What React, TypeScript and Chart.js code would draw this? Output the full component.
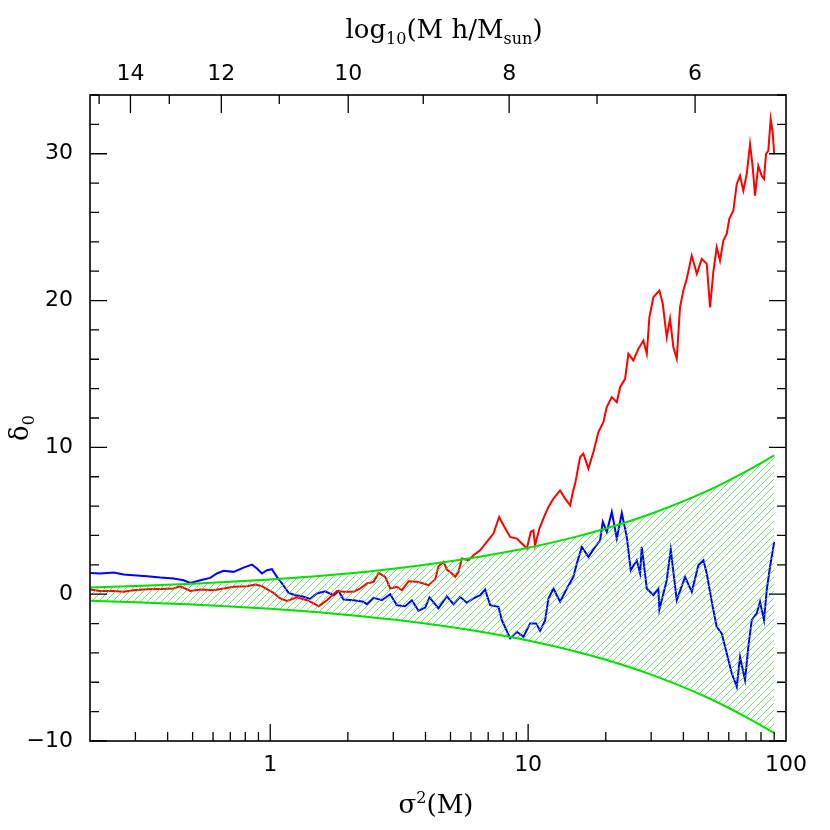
import React, { useEffect, useRef } from "react";
import { Chart, registerables } from "chart.js";

Chart.register(...registerables);

const X_MIN = 0.2;
const X_MAX = 100;
const Y_MIN = -10;
const Y_MAX = 34;

// 1-sigma envelope (green)
const envSigma2 = [0.2, 0.3, 0.5, 0.7, 1, 1.5, 2, 3, 5, 7, 10, 15, 20, 30, 50, 70, 90];
const envUpper = [0.45, 0.55, 0.71, 0.84, 1.0, 1.22, 1.41, 1.73, 2.24, 2.65, 3.16, 3.87, 4.47, 5.48, 7.07, 8.37, 9.45];
const envLower = [-0.45, -0.55, -0.71, -0.84, -1.0, -1.22, -1.41, -1.73, -2.24, -2.65, -3.16, -3.87, -4.47, -5.48, -7.07, -8.37, -9.45];

// red trajectory
const redSigma2 = [
  0.200, 0.219, 0.247, 0.270, 0.295, 0.333, 0.375, 0.422, 0.448, 0.490,
  0.536, 0.603, 0.659, 0.721, 0.812, 0.875, 0.928, 0.985, 1.030, 1.093,
  1.161, 1.269, 1.387, 1.472, 1.539, 1.659, 1.813, 1.924, 2.104, 2.233,
  2.370, 2.515, 2.630, 2.791, 2.919, 3.097, 3.239, 3.438, 3.704, 3.928,
  4.109, 4.362, 4.491, 4.697, 4.840, 5.062, 5.214, 5.370, 5.534, 5.872,
  6.138, 6.516, 6.917, 7.337, 7.720, 8.022, 8.516, 9.042, 9.455, 9.886,
  10.24, 10.48, 10.64, 11.06, 11.53, 11.99, 12.54, 13.30, 13.91, 14.55,
  14.91, 15.22, 15.91, 16.38, 17.13, 17.91, 18.73, 19.58, 20.18, 21.11,
  22.07, 22.73, 23.77, 24.48, 25.59, 26.76, 27.99, 28.85, 29.53, 30.60,
  32.28, 33.27, 34.48, 35.51, 36.58, 37.70, 38.82, 39.98, 41.22, 43.11,
  45.08, 47.14, 49.28, 50.76, 52.25, 53.86, 55.47, 57.15, 58.90, 60.28,
  62.48, 64.42, 66.33, 68.31, 70.42, 72.53, 74.30, 75.84, 78.07, 80.48,
  82.17, 83.65, 85.37, 87.22, 88.79, 90.0,
];
const redDelta = [
  0.32, 0.22, 0.22, 0.16, 0.27, 0.34, 0.36, 0.39, 0.54, 0.22,
  0.32, 0.27, 0.39, 0.50, 0.54, 0.66, 0.54, 0.27, 0.09, -0.29,
  -0.46, -0.22, -0.41, -0.63, -0.82, -0.41, 0.22, 0.16, 0.16, 0.39,
  0.73, 0.84, 1.45, 1.18, 0.39, 0.50, 0.27, 0.88, 0.84, 0.73,
  0.61, 1.00, 1.90, 2.20, 1.68, 1.41, 1.18, 1.52, 2.43, 2.31,
  2.65, 2.99, 3.56, 4.13, 5.26, 4.69, 3.90, 3.79, 3.45, 3.11,
  4.24, 4.35, 3.33, 4.47, 5.26, 5.94, 6.51, 7.07, 6.51, 6.05,
  6.96, 7.53, 9.34, 9.57, 8.55, 9.68, 11.04, 11.72, 12.74, 13.42,
  13.08, 14.10, 14.67, 16.37, 15.92, 16.71, 17.28, 16.37, 18.86, 20.22,
  20.68, 19.78, 17.50, 18.76, 16.82, 16.03, 19.54, 20.68, 21.48, 23.06,
  21.82, 22.84, 22.50, 19.54, 21.93, 23.63, 22.72, 24.08, 24.54, 25.56,
  26.12, 27.94, 28.50, 27.48, 28.62, 30.66, 29.07, 27.14, 29.18, 28.50,
  28.28, 29.98, 30.20, 32.36, 31.45, 29.98,
];

// blue trajectory
const blueSigma2 = [
  0.200, 0.219, 0.247, 0.270, 0.295, 0.333, 0.375, 0.422, 0.461, 0.490,
  0.536, 0.585, 0.621, 0.659, 0.721, 0.788, 0.849, 0.888, 0.928, 0.971,
  1.015, 1.061, 1.110, 1.178, 1.250, 1.327, 1.429, 1.517, 1.634, 1.760,
  1.840, 1.924, 2.104, 2.300, 2.370, 2.515, 2.709, 2.919, 3.097, 3.337,
  3.541, 3.758, 3.989, 4.144, 4.491, 4.840, 5.134, 5.450, 5.786, 6.138,
  6.516, 6.812, 7.124, 7.673, 7.910, 8.516, 9.042, 9.590, 10.18, 10.74,
  11.13, 11.64, 11.99, 12.54, 13.30, 14.13, 14.98, 15.45, 16.15, 17.13,
  18.19, 19.02, 19.48, 20.18, 21.11, 22.07, 23.08, 24.13, 25.00, 26.38,
  27.18, 27.59, 28.85, 30.60, 31.99, 32.28, 34.48, 35.73, 37.70, 40.61,
  43.11, 45.73, 47.82, 49.28, 51.97, 53.86, 56.32, 58.90, 61.60, 64.42,
  66.33, 69.36, 71.44, 73.64, 76.98, 79.29, 82.17, 84.19, 86.70, 90.0,
];
const blueDelta = [
  1.45, 1.41, 1.47, 1.34, 1.29, 1.22, 1.13, 1.07, 0.95, 0.77,
  0.95, 1.11, 1.41, 1.59, 1.52, 1.81, 2.02, 1.75, 1.41, 1.63,
  1.70, 1.18, 0.73, 0.09, -0.07, -0.14, -0.32, 0.05, 0.20, -0.07,
  0.22, -0.36, -0.41, -0.52, -0.68, -0.25, -0.41, 0.0, -0.75, -0.82,
  -0.41, -1.13, -0.91, -0.22, -0.97, -0.14, -0.68, -0.18, -0.59, -0.29,
  -0.07, 0.32, -0.75, -0.86, -1.77, -3.01, -2.56, -2.90, -1.99, -1.99,
  -2.50, -1.77, -0.29, 0.39, -0.52, 0.39, 1.18, 2.09, 3.22, 2.54,
  3.22, 3.67, 4.92, 4.24, 5.60, 3.79, 5.53, 3.90, 1.63, 2.31,
  1.41, 3.22, 0.39, -0.07, 0.39, -1.04, 0.95, 3.04, -0.41, 1.18,
  0.16, 1.97, 2.31, 1.41, -0.86, -2.22, -2.67, -4.03, -5.39, -6.31,
  -4.27, -5.85, -3.59, -1.77, -1.31, -0.52, -1.77, 0.27, 1.86, 3.56,
];

// axis ticks
const bottomTickValues = [1, 10, 100];
const bottomTickLabels = ["1", "10", "100"];
const yTickValues = [-10, 0, 10, 20, 30];
const massTickValues = [15, 14, 13, 12, 11, 10, 9, 8, 7, 6];
const massTickSigma2 = [0.217, 0.287, 0.406, 0.646, 1.084, 2.006, 3.92, 8.44, 18.5, 44.4];

const TICK_FONT = { family: "DejaVu Sans", size: 22 };
const TITLE_FAMILY = "DejaVu Serif";

type Part = { t: string; size: number; dy: number };

function drawRich(ctx: CanvasRenderingContext2D, parts: Part[], cx: number, baseY: number) {
  let total = 0;
  for (const p of parts) {
    ctx.font = `${p.size}px "${TITLE_FAMILY}"`;
    total += ctx.measureText(p.t).width;
  }
  let x = cx - total / 2;
  ctx.textAlign = "left";
  ctx.textBaseline = "alphabetic";
  for (const p of parts) {
    ctx.font = `${p.size}px "${TITLE_FAMILY}"`;
    ctx.fillText(p.t, x, baseY + p.dy);
    x += ctx.measureText(p.t).width;
  }
}

const decorPlugin = {
  id: "decor",
  afterDraw(chart: any) {
    const { ctx, chartArea: a } = chart;
    const sx = chart.scales.x;
    const sy = chart.scales.y;
    const st = chart.scales.xTop;
    ctx.save();
    ctx.strokeStyle = "#000";
    ctx.lineWidth = 1.3;
    ctx.beginPath();
    // bottom axis ticks
    for (const dec of [0.1, 1, 10]) {
      for (let k = 1; k <= 9; k++) {
        const v = k * dec;
        if (v < X_MIN + 1e-9 || v > X_MAX + 1e-9) continue;
        const px = sx.getPixelForValue(v);
        const len = k === 1 ? 17 : 9;
        ctx.moveTo(px, a.bottom);
        ctx.lineTo(px, a.bottom - len);
      }
    }
    // y ticks both sides
    for (let v = Y_MIN; v <= Y_MAX; v += 2) {
      const py = sy.getPixelForValue(v);
      const len = v % 10 === 0 ? 17 : 9;
      ctx.moveTo(a.left, py);
      ctx.lineTo(a.left + len, py);
      ctx.moveTo(a.right, py);
      ctx.lineTo(a.right - len, py);
    }
    // top (mass) ticks
    massTickValues.forEach((m, i) => {
      const px = st.getPixelForValue(massTickSigma2[i]);
      const len = m % 2 === 0 ? 18 : 9;
      ctx.moveTo(px, a.top);
      ctx.lineTo(px, a.top + len);
    });
    ctx.stroke();
    // frame
    ctx.lineWidth = 1.6;
    ctx.strokeRect(a.left, a.top, a.right - a.left, a.bottom - a.top);

    // titles
    ctx.fillStyle = "#000";
    drawRich(
      ctx,
      [
        { t: "log", size: 26, dy: 0 },
        { t: "10", size: 16, dy: 6 },
        { t: "(M h/M", size: 26, dy: 0 },
        { t: "sun", size: 16, dy: 6 },
        { t: ")", size: 26, dy: 0 },
      ],
      444,
      38
    );
    drawRich(
      ctx,
      [
        { t: "σ", size: 26, dy: 0 },
        { t: "2", size: 16, dy: -10 },
        { t: "(M)", size: 26, dy: 0 },
      ],
      436,
      813
    );
    ctx.save();
    ctx.translate(28, 428);
    ctx.rotate(-Math.PI / 2);
    drawRich(
      ctx,
      [
        { t: "δ", size: 26, dy: 0 },
        { t: "0", size: 16, dy: 6 },
      ],
      0,
      0
    );
    ctx.restore();
    ctx.restore();
  },
};

function makeHatch(ctx: CanvasRenderingContext2D): CanvasPattern | string {
  const s = 7;
  const c = document.createElement("canvas");
  c.width = s;
  c.height = s;
  const g = c.getContext("2d");
  if (!g) return "rgba(120,230,120,0.3)";
  g.strokeStyle = "rgba(70,215,70,0.85)";
  g.lineWidth = 0.9;
  g.beginPath();
  g.moveTo(-1, s + 1);
  g.lineTo(s + 1, -1);
  g.moveTo(-2, 1);
  g.lineTo(1, -2);
  g.moveTo(s - 1, s + 2);
  g.lineTo(s + 2, s - 1);
  g.stroke();
  return ctx.createPattern(c, "repeat") || "rgba(120,230,120,0.3)";
}

function pts(xs: number[], ys: number[]) {
  const n = Math.min(xs.length, ys.length);
  const out: { x: number; y: number }[] = [];
  for (let i = 0; i < n; i++) out.push({ x: xs[i], y: ys[i] });
  return out;
}

export default function App() {
  const canvasRef = useRef<HTMLCanvasElement | null>(null);

  useEffect(() => {
    const canvas = canvasRef.current;
    if (!canvas) return;
    const ctx = canvas.getContext("2d");
    if (!ctx) return;
    const hatch = makeHatch(ctx);
    const evenMass = massTickValues.filter((m) => m % 2 === 0);
    const evenMassSigma2 = massTickValues
      .map((m, i) => ({ m, s: massTickSigma2[i] }))
      .filter((o) => o.m % 2 === 0)
      .map((o) => o.s);

    const chart = new Chart(ctx, {
      type: "line",
      data: {
        datasets: [
          {
            label: "upper",
            data: pts(envSigma2, envUpper),
            borderColor: "#00e000",
            borderWidth: 2,
            pointRadius: 0,
            fill: false,
            cubicInterpolationMode: "monotone",
            xAxisID: "x",
            yAxisID: "y",
          },
          {
            label: "lower",
            data: pts(envSigma2, envLower),
            borderColor: "#00e000",
            borderWidth: 2,
            pointRadius: 0,
            fill: "-1",
            backgroundColor: hatch as any,
            cubicInterpolationMode: "monotone",
            xAxisID: "x",
            yAxisID: "y",
          },
          {
            label: "red",
            data: pts(redSigma2, redDelta),
            borderColor: "#ff0000",
            borderWidth: 2,
            pointRadius: 0,
            fill: false,
            tension: 0,
            xAxisID: "x",
            yAxisID: "y",
          },
          {
            label: "blue",
            data: pts(blueSigma2, blueDelta),
            borderColor: "#0000ff",
            borderWidth: 2,
            pointRadius: 0,
            fill: false,
            tension: 0,
            xAxisID: "x",
            yAxisID: "y",
          },
        ],
      },
      options: {
        animation: false,
        responsive: true,
        maintainAspectRatio: false,
        devicePixelRatio: 1,
        layout: { padding: { left: 0, right: 44, top: 0, bottom: 0 } },
        plugins: {
          legend: { display: false },
          tooltip: { enabled: false },
        },
        events: [],
        scales: {
          x: {
            type: "logarithmic",
            position: "bottom",
            min: X_MIN,
            max: X_MAX,
            grid: { display: false, drawTicks: false },
            border: { display: false },
            afterBuildTicks: (s: any) => {
              s.ticks = bottomTickValues.map((v) => ({ value: v }));
            },
            afterFit: (s: any) => {
              s.height = 89;
            },
            ticks: {
              font: TICK_FONT,
              color: "#000",
              padding: 11,
              autoSkip: false,
              maxRotation: 0,
              callback: (_v: any, i: number) => bottomTickLabels[i],
            },
          },
          xTop: {
            type: "logarithmic",
            position: "top",
            min: X_MIN,
            max: X_MAX,
            grid: { display: false, drawTicks: false },
            border: { display: false },
            afterBuildTicks: (s: any) => {
              s.ticks = evenMassSigma2.map((v) => ({ value: v }));
            },
            afterFit: (s: any) => {
              s.height = 95;
            },
            ticks: {
              font: TICK_FONT,
              color: "#000",
              padding: 8,
              autoSkip: false,
              maxRotation: 0,
              callback: (_v: any, i: number) => String(evenMass[i]),
            },
          },
          y: {
            type: "linear",
            position: "left",
            min: Y_MIN,
            max: Y_MAX,
            grid: { display: false, drawTicks: false },
            border: { display: false },
            afterBuildTicks: (s: any) => {
              s.ticks = yTickValues.map((v) => ({ value: v }));
            },
            afterFit: (s: any) => {
              s.width = 90;
            },
            ticks: {
              font: TICK_FONT,
              color: "#000",
              padding: 17,
              autoSkip: false,
              callback: (v: any) => (Number(v) < 0 ? "\u2212" + Math.abs(Number(v)) : String(v)),
            },
          },
        },
      },
      plugins: [decorPlugin],
    });
    return () => chart.destroy();
  }, []);

  return (
    <div style={{ position: "absolute", left: 0, top: 0, width: 830, height: 830, background: "#fff" }}>
      <canvas ref={canvasRef} width={830} height={830} />
    </div>
  );
}
